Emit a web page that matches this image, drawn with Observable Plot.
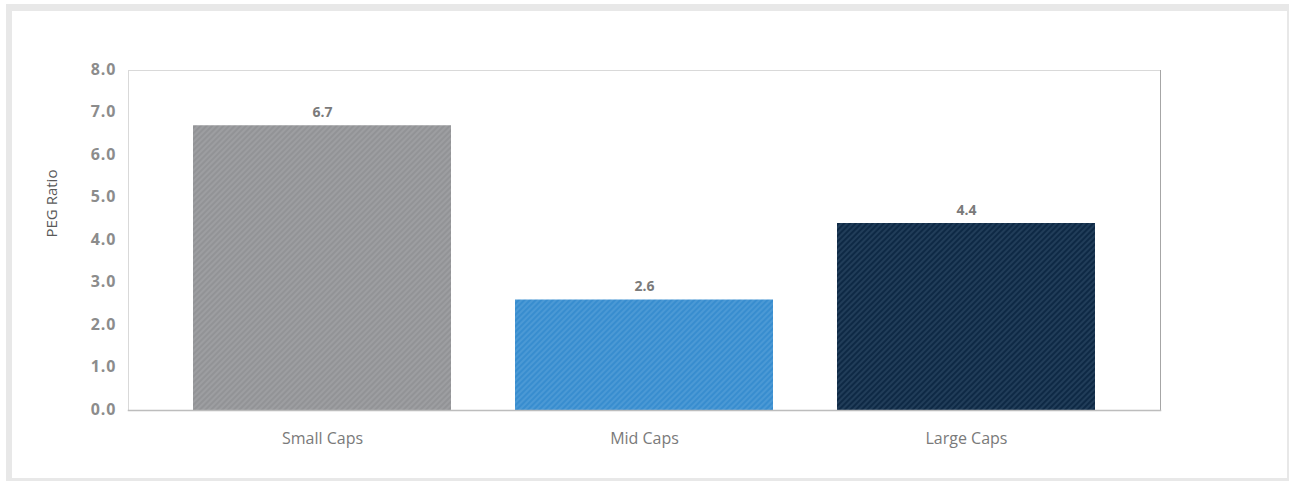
<!DOCTYPE html>
<html>
<head>
<meta charset="utf-8">
<script src="https://cdn.jsdelivr.net/npm/d3@7"></script>
<script src="https://cdn.jsdelivr.net/npm/@observablehq/plot@0.6"></script>
<style>
  html, body { margin: 0; padding: 0; background: #fff; }
  #box { position: absolute; left: 6px; top: 4px; width: 1275px; height: 467px;
         border-style: solid; border-color: #e8e8e8; border-width: 7px 2px 3px 6px; background: #fff; }
  #chart { position: absolute; left: 0; top: 0; }
  text { font-family: "Open Sans", "Noto Sans", sans-serif; }
  g[aria-label="y-axis tick label"] text { letter-spacing: 1px; }
</style>
</head>
<body>
<div id="box"></div>
<svg width="0" height="0" style="position:absolute">
  <defs>
    <pattern id="hSmall" patternUnits="userSpaceOnUse" width="4" height="4" patternTransform="rotate(45)">
      <rect width="4" height="4" fill="#929396"></rect>
      <line x1="1" y1="0" x2="1" y2="4" stroke="#a9aaad" stroke-width="1"></line>
    </pattern>
    <pattern id="hMid" patternUnits="userSpaceOnUse" width="4" height="4" patternTransform="rotate(45)">
      <rect width="4" height="4" fill="#388dcf"></rect>
      <line x1="1" y1="0" x2="1" y2="4" stroke="#5ea6dc" stroke-width="1"></line>
    </pattern>
    <pattern id="hLarge" patternUnits="userSpaceOnUse" width="4" height="4" patternTransform="rotate(45)">
      <rect width="4" height="4" fill="#0e2945"></rect>
      <line x1="1" y1="0" x2="1" y2="4" stroke="#34506d" stroke-width="1"></line>
    </pattern>
  </defs>
</svg>
<div id="chart"></div>
<script>
const categories = ["Small Caps", "Mid Caps", "Large Caps"];
const values = [6.7, 2.6, 4.4];
const fills = ["url(#hSmall)", "url(#hMid)", "url(#hLarge)"];
const yTicks = [0, 1, 2, 3, 4, 5, 6, 7, 8];
const yLabel = "PEG Ratio";

const data = categories.map((c, i) => ({cat: c, value: values[i], fill: fills[i]}));

const chart = Plot.plot({
  width: 1289,
  height: 481,
  marginLeft: 128,
  marginRight: 129,
  marginTop: 70,
  marginBottom: 71,
  style: {background: "transparent", fontFamily: "'Open Sans', sans-serif"},
  x: {domain: categories, padding: 0.2},
  y: {domain: [0, 8]},
  color: {type: "identity"},
  marks: [
    Plot.barY(data, {x: "cat", y: "value", fill: "fill"}),
    Plot.frame({anchor: "top", stroke: "#d9d9d9"}),
    Plot.frame({anchor: "left", stroke: "#d9d9d9"}),
    Plot.frame({anchor: "right", stroke: "#a6a6a6"}),
    Plot.frame({anchor: "bottom", stroke: "#bdbdbd", strokeWidth: 1.5}),
    Plot.axisY({ticks: yTicks, tickFormat: d3.format(".1f"), tickSize: 0, tickPadding: 12, dy: -1,
                fontSize: 16, fontWeight: "bold", fill: "#8c8c8c", label: null}),
    Plot.axisX({tickSize: 0, tickPadding: 22, fontSize: 16, fill: "#7a7a7a", label: null}),
    Plot.text([yLabel], {frameAnchor: "left", rotate: -90, dx: -76, dy: -3,
                         fontSize: 15, fill: "#595959"}),
    Plot.text(data, {x: "cat", y: "value", text: d => d3.format(".1f")(d.value), dy: -13,
                     fontSize: 14, fontWeight: "bold", fill: "#7a7a7a"})
  ]
});
document.getElementById("chart").appendChild(chart);
</script>
</body>
</html>
